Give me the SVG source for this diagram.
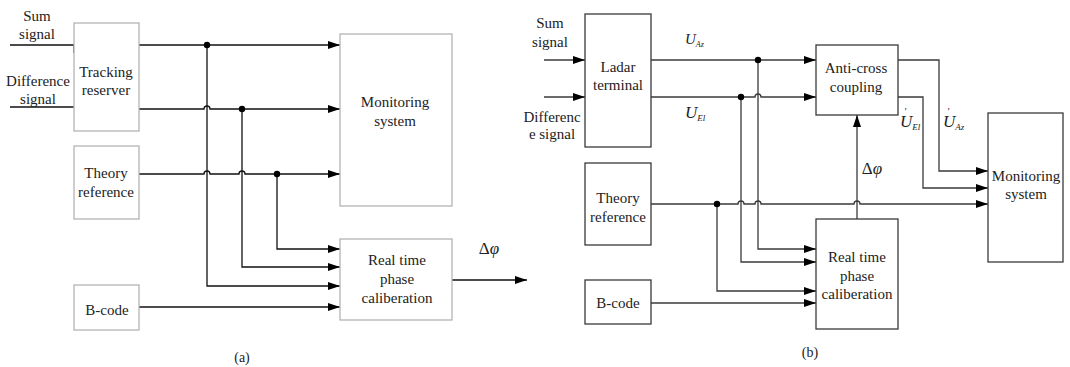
<svg xmlns="http://www.w3.org/2000/svg" width="1070" height="367" viewBox="0 0 1070 367">
  <style>
    text { font-family: "Liberation Serif", "DejaVu Serif", "Times New Roman", serif; }
    .t { font-size: 15px; fill: #222; text-anchor: middle; }
    .ti { font-style: italic; fill: #222; }
    .boxA { fill: #fff; stroke: #b4b4b4; stroke-width: 1.3; }
    .boxB { fill: #fff; stroke: #3a3a3a; stroke-width: 1.3; }
    .wA { fill: none; stroke: #111; stroke-width: 1.3; }
    .wB { fill: none; stroke: #3a3a3a; stroke-width: 1.3; }
    .dot { fill: #000; }
  </style>
  <defs>
    <marker id="arr" markerUnits="userSpaceOnUse" markerWidth="13" markerHeight="9" refX="12" refY="4" orient="auto">
      <path d="M0,0 L12,4 L0,8 z" fill="#000"/>
    </marker>
  </defs>

  <rect width="1070" height="367" fill="#fff"/>

  <!-- (a) connectors -->
  <g id="connectors-a">
    <path class="wA" d="M10,45 H74 V53"/>
    <path class="wA" d="M10,107 H74"/>
    <path class="wA" d="M139,45 H340" marker-end="url(#arr)"/>
    <path class="wA" d="M139,109 H204 A3,3 0 0 1 210,109 H340" marker-end="url(#arr)"/>
    <path class="wA" d="M139,174 H204 A3,3 0 0 1 210,174 H239 A3,3 0 0 1 245,174 H340" marker-end="url(#arr)"/>
    <path class="wA" d="M207,45 V286 H340" marker-end="url(#arr)"/>
    <path class="wA" d="M242,109 V267 H340" marker-end="url(#arr)"/>
    <path class="wA" d="M277,174 V249 H340" marker-end="url(#arr)"/>
    <path class="wA" d="M139,307 H340" marker-end="url(#arr)"/>
    <path class="wA" d="M452,280 H527" marker-end="url(#arr)"/>
    <circle class="dot" cx="207" cy="45" r="3.2"/>
    <circle class="dot" cx="242" cy="109" r="3.2"/>
    <circle class="dot" cx="277" cy="174" r="3.2"/>
  </g>

  <!-- (a) nodes -->
  <g id="a-inputs">
    <text class="t" x="37" y="21">Sum</text>
    <text class="t" x="37" y="39">signal</text>
    <text class="t" x="38" y="86">Difference</text>
    <text class="t" x="38" y="104">signal</text>
  </g>
  <g id="a-tracking">
    <rect class="boxA" x="74" y="23" width="65" height="108"/>
    <text class="t" x="106" y="77">Tracking</text>
    <text class="t" x="106" y="95">reserver</text>
  </g>
  <g id="a-theory">
    <rect class="boxA" x="74" y="146" width="65" height="73"/>
    <text class="t" x="106" y="178">Theory</text>
    <text class="t" x="106" y="197">reference</text>
  </g>
  <g id="a-bcode">
    <rect class="boxA" x="74" y="285" width="65" height="45"/>
    <text class="t" x="107" y="315">B-code</text>
  </g>
  <g id="a-monitoring">
    <rect class="boxA" x="340" y="34" width="112" height="172"/>
    <text class="t" x="395" y="107">Monitoring</text>
    <text class="t" x="395" y="126">system</text>
  </g>
  <g id="a-realtime">
    <rect class="boxA" x="340" y="239" width="112" height="81"/>
    <text class="t" x="397" y="265">Real time</text>
    <text class="t" x="397" y="284">phase</text>
    <text class="t" x="397" y="303">caliberation</text>
  </g>
  <g id="a-labels">
    <text class="t" x="489" y="254" style="font-size:17px">Δ<tspan font-style="italic">φ</tspan></text>
    <text class="t" x="242" y="362" style="font-size:14px">(a)</text>
  </g>

  <!-- (b) connectors -->
  <g id="connectors-b">
    <path class="wB" d="M544,60 H585" marker-end="url(#arr)"/>
    <path class="wB" d="M544,97 H585" marker-end="url(#arr)"/>
    <path class="wB" d="M651,60 H816" marker-end="url(#arr)"/>
    <path class="wB" d="M651,97 H755 A3,3 0 0 1 761,97 H816" marker-end="url(#arr)"/>
    <path class="wB" d="M651,204 H738 A3,3 0 0 1 744,204 H755 A3,3 0 0 1 761,204 H854 A3,3 0 0 1 860,204 H988" marker-end="url(#arr)"/>
    <path class="wB" d="M758,60 V249 H816" marker-end="url(#arr)"/>
    <path class="wB" d="M741,97 V262 H816" marker-end="url(#arr)"/>
    <path class="wB" d="M717,204 V291 H816" marker-end="url(#arr)"/>
    <path class="wB" d="M651,303 H816" marker-end="url(#arr)"/>
    <path class="wB" d="M857,219 V115" marker-end="url(#arr)"/>
    <path class="wB" d="M898,60 H939 V171 H988" marker-end="url(#arr)"/>
    <path class="wB" d="M898,97 H923 V188 H988" marker-end="url(#arr)"/>
    <circle class="dot" cx="758" cy="60" r="3.2"/>
    <circle class="dot" cx="741" cy="97" r="3.2"/>
    <circle class="dot" cx="717" cy="204" r="3.2"/>
  </g>

  <!-- (b) nodes -->
  <g id="b-inputs">
    <text class="t" x="550" y="28">Sum</text>
    <text class="t" x="550" y="47">signal</text>
    <text class="t" x="552" y="122">Differenc</text>
    <text class="t" x="552" y="139">e signal</text>
  </g>
  <g id="b-ladar">
    <rect class="boxB" x="585" y="14" width="66" height="133"/>
    <text class="t" x="618" y="72">Ladar</text>
    <text class="t" x="618" y="90">terminal</text>
  </g>
  <g id="b-theory">
    <rect class="boxB" x="585" y="163" width="66" height="82"/>
    <text class="t" x="618" y="203">Theory</text>
    <text class="t" x="618" y="222">reference</text>
  </g>
  <g id="b-bcode">
    <rect class="boxB" x="585" y="280" width="66" height="44"/>
    <text class="t" x="618" y="308">B-code</text>
  </g>
  <g id="b-anticross">
    <rect class="boxB" x="816" y="45" width="82" height="70"/>
    <text class="t" x="856" y="73">Anti-cross</text>
    <text class="t" x="856" y="92">coupling</text>
  </g>
  <g id="b-realtime">
    <rect class="boxB" x="816" y="219" width="82" height="110"/>
    <text class="t" x="857" y="262">Real time</text>
    <text class="t" x="857" y="281">phase</text>
    <text class="t" x="857" y="299">caliberation</text>
  </g>
  <g id="b-monitoring">
    <rect class="boxB" x="988" y="113" width="75" height="149"/>
    <text class="t" x="1026" y="181">Monitoring</text>
    <text class="t" x="1026" y="199">system</text>
  </g>
  <g id="b-labels">
    <text class="ti" x="685" y="44" font-size="15">U<tspan font-size="8" dy="3">Az</tspan></text>
    <text class="ti" x="685" y="118" font-size="17">U<tspan font-size="9" dy="3">El</tspan></text>
    <text class="ti" x="900" y="127" font-size="17">U<tspan font-size="9" dy="3">El</tspan></text>
    <text class="ti" x="904" y="115" font-size="10">'</text>
    <text class="ti" x="943" y="127" font-size="17">U<tspan font-size="9" dy="3">Az</tspan></text>
    <text class="ti" x="947" y="115" font-size="10">'</text>
    <text class="t" x="872" y="174" style="font-size:17px">Δ<tspan font-style="italic">φ</tspan></text>
    <text class="t" x="810" y="357" style="font-size:14px">(b)</text>
  </g>
</svg>
